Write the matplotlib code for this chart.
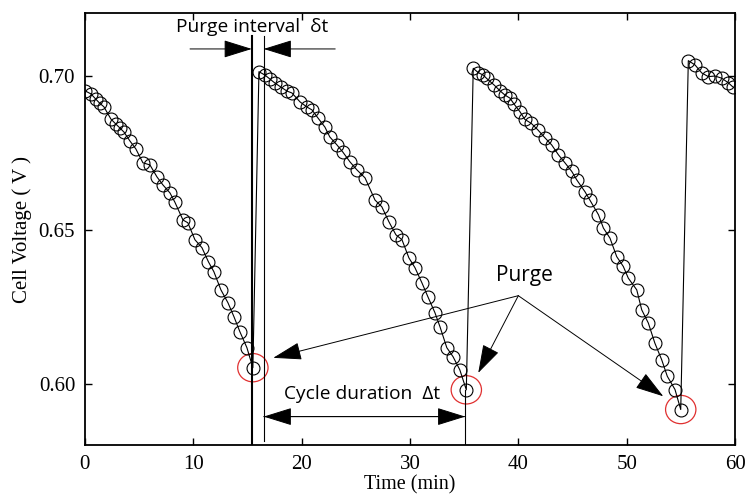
import matplotlib.pyplot as plt
from matplotlib.patches import Ellipse

# cycle 1
t1 = [0.0, 0.55, 1.0, 1.35, 1.75, 2.4, 2.85, 3.2, 3.6, 4.15, 4.7, 5.35, 6.0, 6.65,
      7.2, 7.85, 8.3, 9.05, 9.5, 10.15, 10.8, 11.4, 11.9, 12.55, 13.2, 13.75,
      14.3, 14.95, 15.5]
v1 = [0.6952, 0.6942, 0.6925, 0.6912, 0.6900, 0.6860, 0.6844, 0.6832, 0.6818, 0.6789,
      0.6763, 0.6718, 0.6711, 0.6672, 0.6646, 0.6620, 0.6590, 0.6532, 0.6523,
      0.6468, 0.6442, 0.6396, 0.6364, 0.6305, 0.6263, 0.6218, 0.6169, 0.6117,
      0.6052]
# cycle 2
t2 = [16.06, 16.62, 17.08, 17.54, 18.09, 18.65, 19.1, 19.85, 20.5, 20.95, 21.5,
      22.15, 22.6, 23.26, 23.8, 24.46, 25.1, 25.85, 26.77, 27.4, 28.06, 28.7,
      29.26, 29.9, 30.46, 31.1, 31.66, 32.3, 32.77, 33.4, 33.97, 34.6, 35.2]
v2 = [0.7014, 0.7003, 0.6990, 0.6977, 0.6964, 0.6951, 0.6945, 0.6916, 0.6899,
      0.6890, 0.6864, 0.6834, 0.6802, 0.6776, 0.6753, 0.6721, 0.6695, 0.6669,
      0.6597, 0.6575, 0.6526, 0.6484, 0.6468, 0.6409, 0.6377, 0.6328, 0.6282,
      0.6231, 0.6185, 0.6117, 0.6088, 0.6045, 0.5980]
# cycle 3
t3 = [35.84, 36.3, 36.77, 37.08, 37.76, 38.31, 38.77, 39.23, 39.6, 40.15, 40.6,
      41.2, 41.8, 42.46, 43.08, 43.7, 44.3, 44.93, 45.4, 46.15, 46.6, 47.4, 47.85,
      48.46, 49.08, 49.69, 50.15, 50.93, 51.39, 52.0, 52.6, 53.23, 53.75, 54.46,
      54.99]
v3 = [0.7025, 0.7011, 0.7003, 0.6992, 0.6971, 0.6952, 0.6938, 0.6928, 0.6909,
      0.6884, 0.6859, 0.6846, 0.6825, 0.6799, 0.6776, 0.6744, 0.6718, 0.6690,
      0.6662, 0.6624, 0.6597, 0.6549, 0.6506, 0.6473, 0.6413, 0.6381, 0.6343,
      0.6305, 0.6240, 0.6197, 0.6132, 0.6078, 0.6024, 0.5981, 0.5916]
# cycle 4
t4 = [55.69, 56.31, 56.93, 57.54, 58.15, 58.77, 59.38, 59.85]
v4 = [0.7050, 0.7036, 0.7010, 0.6998, 0.7000, 0.6993, 0.6978, 0.6963]

time = t1 + t2 + t3 + t4
volt = v1 + v2 + v3 + v4

# purge minima (red rings)
purge_t = [15.5, 35.2, 54.99]
purge_v = [0.6052, 0.5980, 0.5916]

sans = 'Open Sans'
plt.rcParams['font.family'] = 'Liberation Serif'

fig = plt.figure(figsize=(7.45, 4.98), dpi=100)
ax = fig.add_axes([0.114, 0.106, 0.8726, 0.868])

ax.plot(time, volt, '-', color='black', lw=0.8, marker='o', ms=9.3,
        mfc='none', mec='black', mew=0.8)

for t, v in zip(purge_t, purge_v):
    ax.add_patch(Ellipse((t, v), 2.8, 0.0092, fill=False, ec='#e03030', lw=0.9))

# purge interval lines
ax.plot([15.4, 15.4], [0.58, 0.713], color='black', lw=1.5)
ax.plot([16.5, 16.5], [0.5815, 0.713], color='black', lw=0.8)
ax.plot([35.1, 35.1], [0.58, 0.598], color='black', lw=0.8)

arr = dict(arrowstyle='-|>,head_length=0.9,head_width=0.28', color='black',
           lw=0.7, shrinkA=0, shrinkB=0, mutation_scale=20)
ax.annotate('', xy=(15.4, 0.7088), xytext=(9.7, 0.7088), arrowprops=arr)
ax.annotate('', xy=(16.5, 0.7088), xytext=(23.1, 0.7088), arrowprops=arr)
ax.text(15.4, 0.7158, 'Purge interval  \u03b4t', family=sans, fontsize=13.8,
        ha='center', va='center')

# cycle duration
ax.annotate('', xy=(16.5, 0.5893), xytext=(35.1, 0.5893), arrowprops=arr)
ax.annotate('', xy=(35.1, 0.5893), xytext=(16.5, 0.5893), arrowprops=arr)
ax.text(25.55, 0.5966, 'Cycle duration  \u0394t', family=sans, fontsize=13.8,
        ha='center', va='center')

# purge callouts
ax.text(40.6, 0.6353, 'Purge', family=sans, fontsize=15, ha='center', va='center')
for tx, ty in [(17.38, 0.6084), (36.3, 0.6035), (53.38, 0.5959)]:
    ax.annotate('', xy=(tx, ty), xytext=(40.0, 0.6286), arrowprops=arr)

ax.set_xlim(0, 60)
ax.set_ylim(0.58, 0.7205)
ax.set_xticks([0, 10, 20, 30, 40, 50, 60])
ax.set_yticks([0.60, 0.65, 0.70])
ax.set_yticklabels(['0.60', '0.65', '0.70'])
ax.tick_params(direction='in', top=True, right=True, length=5, width=1,
               labelsize=15, pad=7)
for s in ax.spines.values():
    s.set_linewidth(1.3)
ax.set_xlabel('Time (min)', fontsize=14.5, labelpad=1)
ax.set_ylabel('Cell Voltage ( V )', fontsize=15, labelpad=5)

fig.savefig('out.png', dpi=100)
